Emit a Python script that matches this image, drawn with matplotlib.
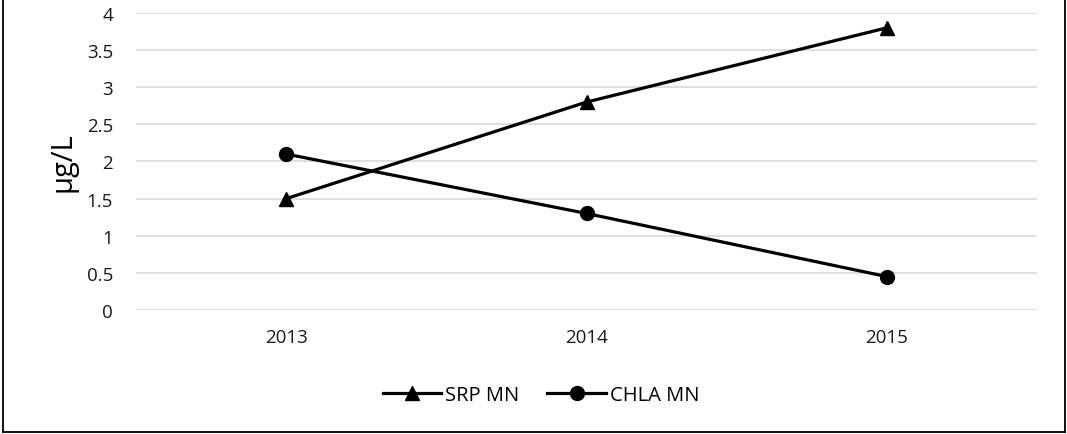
import matplotlib
matplotlib.use("Agg")
import matplotlib.pyplot as plt
from matplotlib.lines import Line2D

# Yearly means
years = ["2013", "2014", "2015"]
srp_mn = [1.5, 2.8, 3.8]
chla_mn = [2.1, 1.3, 0.45]
y_ticks = [0, 0.5, 1, 1.5, 2, 2.5, 3, 3.5, 4]

plt.rcParams["font.family"] = ["Open Sans", "DejaVu Sans"]

fig = plt.figure(figsize=(10.67, 4.35), dpi=100)
ax = fig.add_axes([0.1275, 0.285, 0.8445, 0.683])

x = range(len(years))
ax.plot(x, srp_mn, color="black", lw=2.3, marker="^", ms=10, label="SRP MN")
ax.plot(x, chla_mn, color="black", lw=2.3, marker="o", ms=10, label="CHLA MN")

ax.set_xlim(-0.5, len(years) - 0.5)
ax.set_ylim(0, 4)
ax.set_xticks(list(x))
ax.set_xticklabels(years)
ax.set_yticks(y_ticks)
ax.set_yticklabels([f"{t:g}" for t in y_ticks])
ax.tick_params(length=0, labelsize=13.5, colors="#1a1a1a")
ax.tick_params(axis="x", pad=13)
ax.tick_params(axis="y", pad=16.5)
ax.yaxis.grid(True, color="#d9d9d9", lw=1.2)
ax.set_axisbelow(True)
for s in ax.spines.values():
    s.set_visible(False)

ax.set_ylabel("μg/L", fontsize=21, labelpad=7)

fig.legend(loc="center", bbox_to_anchor=(0.507, 0.09), ncol=2, frameon=False,
           fontsize=14.5, handlelength=2.9, handletextpad=0.2, columnspacing=1.4)

# chart frame
for xs, ys in [([0.003, 0.003], [0.0045, 1.0]), ([0.9985, 0.9985], [0.0045, 1.0]),
               ([0.003, 0.9985], [0.0045, 0.0045])]:
    fig.add_artist(Line2D(xs, ys, color="black", lw=1.3, transform=fig.transFigure))

fig.savefig("out.png", dpi=100)
